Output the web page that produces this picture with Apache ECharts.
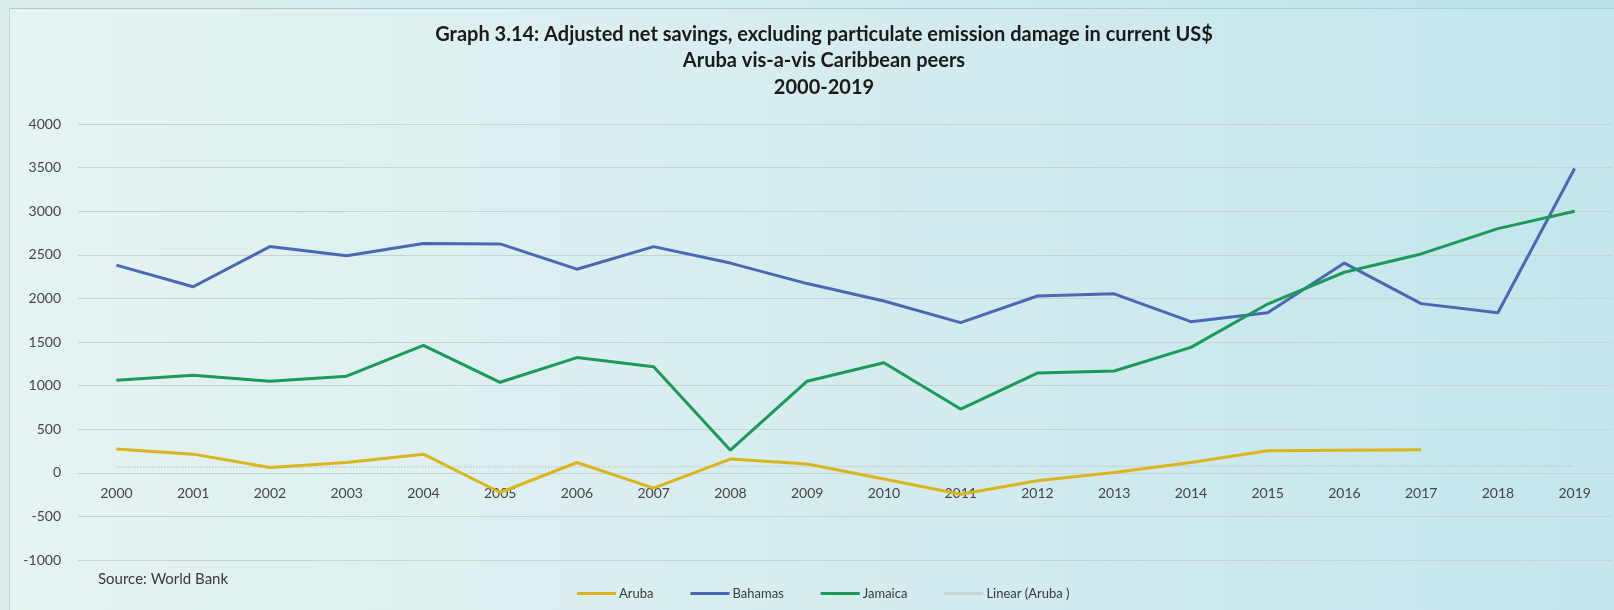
<!DOCTYPE html>
<html>
<head>
<meta charset="utf-8">
<title>Adjusted net savings</title>
<script src="https://cdn.jsdelivr.net/npm/echarts@6/dist/echarts.min.js"></script>
<style>
  html, body { margin: 0; padding: 0; }
  body {
    width: 1614px; height: 610px; overflow: hidden;
    background: linear-gradient(90deg, #dcefed 0%, #d3ecee 50%, #b9e2ea 100%);
  }
  #panel {
    position: absolute; left: 9px; top: 8px; right: 0; bottom: 0;
    border-top: 1px solid #a9ccd0;
    border-left: 1px solid #c2d9d7;
    background: linear-gradient(90deg, #e5f3f1 0%, #dceff0 35%, #d2ebee 60%, #c2e6ec 100%);
  }
  #chart { position: absolute; left: 0; top: 0; width: 1614px; height: 610px; }
</style>
</head>
<body>
<div id="panel"></div>
<div id="chart"></div>
<script>
// Years on the category axis
const years = ['2000','2001','2002','2003','2004','2005','2006','2007','2008','2009',
               '2010','2011','2012','2013','2014','2015','2016','2017','2018','2019'];

// Adjusted net savings (current US$), by country
const aruba   = [272, 214, 61, 118, 214, -226, 118, -176, 157, 100,
                 -72, -245, -92, 3, 118, 252, 260, 264, null, null];
const bahamas = [2382, 2134, 2594, 2488, 2630, 2625, 2335, 2594, 2405, 2170,
                 1970, 1722, 2028, 2052, 1733, 1835, 2405, 1940, 1835, 3490];
const jamaica = [1061, 1120, 1050, 1108, 1462, 1038, 1321, 1215, 259, 1050,
                 1262, 731, 1144, 1167, 1439, 1935, 2300, 2510, 2800, 3000];

// Linear trend of Aruba: end values only, joined by a straight segment
const arubaTrend = [65, null, null, null, null, null, null, null, null, null,
                    null, null, null, null, null, null, null, null, null, 80];

// Value-axis ticks
const yMin = -1000, yMax = 4000, yStep = 500;

const FONT = 'Lato, "Open Sans", sans-serif';
const GRID = { left: 78, right: 1, top: 124, bottom: 50 };
const plotHeight = 610 - GRID.top - GRID.bottom;
// distance from the bottom of the plot up to the zero line, so year labels sit under it
const zeroLift = plotHeight * (0 - yMin) / (yMax - yMin);

const chart = echarts.init(document.getElementById('chart'), null, { renderer: 'canvas' });

chart.setOption({
  backgroundColor: 'transparent',
  animation: false,
  title: [
    {
      text: 'Graph 3.14: Adjusted net savings, excluding particulate emission damage in current US$\nAruba vis-a-vis Caribbean peers\n2000-2019',
      left: 819, top: 16, textAlign: 'center',
      textStyle: { fontFamily: FONT, fontWeight: 'bold', fontSize: 20, color: '#1a1a1a', lineHeight: 26.5 }
    },
    {
      text: 'Source: World Bank',
      left: 93, top: 567,
      textStyle: { fontFamily: FONT, fontWeight: 'normal', fontSize: 15, color: '#3a3a3a' }
    }
  ],
  legend: {
    bottom: 5, left: 572,
    itemWidth: 39, itemHeight: 3, itemGap: 37,
    icon: 'rect',
    textStyle: { fontFamily: FONT, fontSize: 13, color: '#3a3a3a', padding: [0, 0, 0, -2] },
    data: ['Aruba', 'Bahamas', 'Jamaica', 'Linear (Aruba )']
  },
  grid: Object.assign({ containLabel: false }, GRID),
  xAxis: {
    type: 'category',
    data: years,
    boundaryGap: true,
    offset: -zeroLift,
    axisLine: { show: true, onZero: false, lineStyle: { color: '#c5d3d3', width: 1 } },
    axisTick: { show: false },
    axisLabel: { fontFamily: FONT, fontSize: 14, color: '#454545', margin: 14 }
  },
  yAxis: {
    type: 'value',
    min: yMin, max: yMax, interval: yStep,
    axisLine: { show: false },
    axisTick: { show: false },
    splitLine: { lineStyle: { color: '#c5d3d3', width: 1 } },
    axisLabel: { fontFamily: FONT, fontSize: 14, color: '#454545', margin: 17,
                 formatter: v => String(v) }
  },
  series: [
    {
      name: 'Aruba', type: 'line', data: aruba, symbol: 'none',
      lineStyle: { color: '#dcb51c', width: 3 }, itemStyle: { color: '#dcb51c' }, z: 5
    },
    {
      name: 'Bahamas', type: 'line', data: bahamas, symbol: 'none',
      lineStyle: { color: '#4a68b4', width: 3 }, itemStyle: { color: '#4a68b4' }, z: 4
    },
    {
      name: 'Jamaica', type: 'line', data: jamaica, symbol: 'none',
      lineStyle: { color: '#1c9a5a', width: 3 }, itemStyle: { color: '#1c9a5a' }, z: 4
    },
    {
      name: 'Linear (Aruba )', type: 'line', data: arubaTrend, symbol: 'none',
      connectNulls: true,
      lineStyle: { color: '#b9c6c6', width: 2, type: [1, 2] }, itemStyle: { color: '#c9d3d3' }, z: 3
    }
  ]
});
</script>
</body>
</html>
